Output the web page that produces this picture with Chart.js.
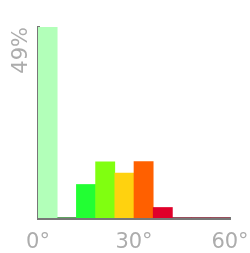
<!DOCTYPE html>
<html>
<head>
<meta charset="utf-8">
<script src="https://cdn.jsdelivr.net/npm/chart.js@4/dist/chart.umd.min.js"></script>
<style>
html,body{margin:0;padding:0;background:#fff;}
#wrap{width:250px;height:253px;}
</style>
</head>
<body>
<div id="wrap"><canvas id="c" width="250" height="253"></canvas></div>
<script>
// Bins of 6 degrees (bin start values)
const binStarts = [0, 6, 12, 18, 24, 30, 36, 42, 48, 54];
const binWidth = 6;
const shares = [49, 0, 8.6, 14.4, 11.5, 14.5, 2.7, 0, 0, 0];
const barColors = ['#b2ffb9', '#33ff33', '#22ff33', '#80ff10', '#ffd20f', '#ff6000', '#e0002a', '#e0002a', '#e0002a', '#e0002a'];
const xTickValues = [0, 30, 60];
const xTickLabels = ['0°', '30°', '60°'];
const yTickValues = [49];
const yTickLabels = ['49%'];

const points = binStarts.map((s, i) => ({ x: s + binWidth / 2, y: shares[i] }));

const yLabelPlugin = {
  id: 'yLabel',
  afterDraw(chart) {
    const ctx = chart.ctx;
    const ys = chart.scales.y;
    ctx.save();
    ctx.fillStyle = '#acacac';
    ctx.font = '21px "DejaVu Sans"';
    ctx.textAlign = 'right';
    ctx.textBaseline = 'middle';
    yTickValues.forEach((v, i) => {
      const py = ys.getPixelForValue(v);
      ctx.save();
      ctx.translate(ys.right - 16, py);
      ctx.rotate(-Math.PI / 2);
      ctx.fillText(yTickLabels[i], 0, 0);
      ctx.restore();
    });
    ctx.restore();
  }
};

new Chart(document.getElementById('c'), {
  type: 'bar',
  data: {
    datasets: [{
      data: points,
      backgroundColor: barColors,
      borderWidth: 0,
      barPercentage: 1,
      categoryPercentage: 1
    }]
  },
  options: {
    responsive: false,
    animation: false,
    devicePixelRatio: 1,
    layout: { padding: { top: 27, right: 0, left: 0, bottom: 0 } },
    plugins: { legend: { display: false }, tooltip: { enabled: false } },
    scales: {
      x: {
        type: 'linear',
        min: 0,
        max: 60,
        offset: false,
        z: 1,
        afterBuildTicks(scale) { scale.ticks = xTickValues.map(v => ({ value: v })); },
        afterFit(scale) { scale.height = 35; scale.paddingRight = 20; scale.paddingLeft = 0; },
        grid: { display: false, drawTicks: false },
        border: { display: true, color: '#777777', width: 3 },
        ticks: {
          padding: 12,
          color: '#acacac',
          font: { family: 'DejaVu Sans', size: 21 },
          maxRotation: 0,
          callback(v) { const i = xTickValues.indexOf(v); return i >= 0 ? xTickLabels[i] : ''; }
        }
      },
      y: {
        min: 0,
        max: 49,
        z: 1,
        afterFit(scale) { scale.width = 38; },
        grid: { display: false, drawTicks: false },
        border: { display: true, color: '#777777', width: 3 },
        ticks: { display: false }
      }
    }
  },
  plugins: [yLabelPlugin]
});
</script>
</body>
</html>
